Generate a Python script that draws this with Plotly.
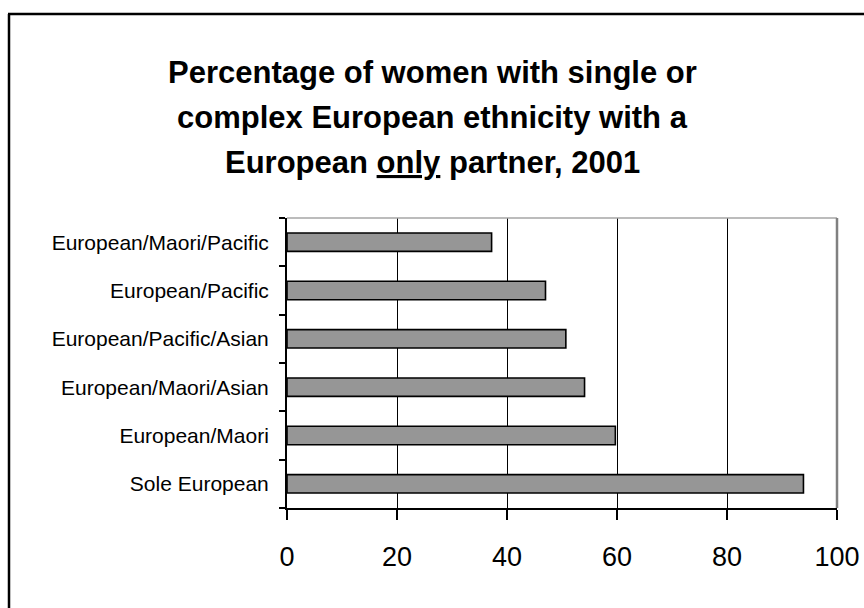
import plotly.graph_objects as go

categories = ["Sole European", "European/Maori", "European/Maori/Asian",
              "European/Pacific/Asian", "European/Pacific", "European/Maori/Pacific"]
values = [93.9, 59.7, 54.1, 50.7, 47.0, 37.2]
x_ticks = [0, 20, 40, 60, 80, 100]
title_lines = ["Percentage of women with single or",
               "complex European ethnicity with a",
               "European <u>only</u> partner, 2001"]

W, H = 864, 608
L, R, T, B = 287, 27, 218, 100
PW, PH = W - L - R, H - T - B

def px(x):
    return (x - L) / PW

def py(y):
    return (H - B - y) / PH

fig = go.Figure(go.Bar(
    y=categories, x=values, orientation="h",
    marker=dict(color="#969696", line=dict(color="black", width=1.6)),
    hoverinfo="skip",
))

shapes = [
    # outer frame (left/top visible)
    dict(type="line", xref="paper", yref="paper", x0=px(9), x1=px(9), y0=py(620), y1=py(14),
         line=dict(color="black", width=2.5), layer="below"),
    dict(type="line", xref="paper", yref="paper", x0=px(8), x1=px(880), y0=py(14), y1=py(14),
         line=dict(color="black", width=2.5), layer="below"),
    # plot top border (light gray)
    dict(type="line", xref="x domain", yref="y domain", x0=0, x1=1, y0=1, y1=1,
         line=dict(color="#a6a6a6", width=1.5), layer="above"),
    # plot right border (gray)
    dict(type="line", xref="x domain", yref="y domain", x0=1, x1=1, y0=0, y1=1,
         line=dict(color="#808080", width=2.5), layer="above"),
]

annotations = []
for line, yc in zip(title_lines, [72, 117, 162]):
    annotations.append(dict(
        text="<b>" + line + "</b>", xref="paper", yref="paper",
        x=px(W / 2), y=py(yc), xanchor="center", yanchor="middle", showarrow=False,
        font=dict(family="Liberation Sans, Arial", size=31, color="black"),
    ))

fig.update_layout(
    width=W, height=H, autosize=False,
    margin=dict(l=L, r=R, t=T, b=B, pad=0, autoexpand=False),
    paper_bgcolor="white", plot_bgcolor="white",
    showlegend=False, bargap=0.62,
    shapes=shapes, annotations=annotations,
    font=dict(family="Liberation Sans, Arial", color="black"),
    xaxis=dict(range=[0, 100], tickvals=x_ticks, ticktext=[str(t) for t in x_ticks],
               showgrid=True, gridcolor="black", gridwidth=1,
               showline=True, linecolor="black", linewidth=2,
               ticks="outside", ticklen=10, tickwidth=1.5, tickcolor="black",
               tickfont=dict(size=27), ticklabelstandoff=14, zeroline=False,
               automargin=False, fixedrange=True),
    yaxis=dict(categoryorder="array", categoryarray=categories,
               showgrid=False, showline=True, linecolor="black", linewidth=2,
               ticks="outside", ticklen=6, tickwidth=1.5, tickcolor="black",
               tickson="boundaries", tickfont=dict(size=21), ticklabelstandoff=12,
               automargin=False, fixedrange=True),
)

fig.write_html("out.html")
